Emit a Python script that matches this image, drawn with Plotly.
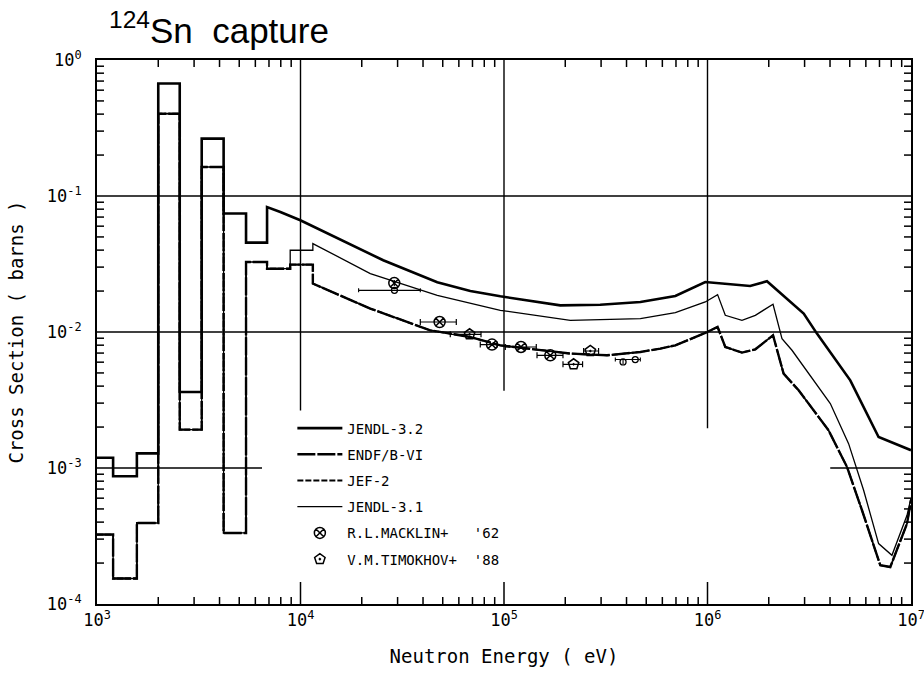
import plotly.graph_objects as go

# ---------------- data ----------------
# JENDL-3.2 : averaged resonance histogram then smooth curve
edges_j32 = [1000, 1200, 1570, 2000, 2550, 3270, 4190, 5400, 6850]
sig_j32_hist = [1.19e-3, 8.7e-4, 1.28e-3, 0.671, 3.62e-3, 0.264, 0.0743, 0.0454]
e_j32 = [6850, 7960, 9980, 25500, 47000, 68300, 95900, 189000, 297000, 468000,
         695000, 975000, 1.62e6, 1.96e6, 2.97e6, 3.45e6, 5.03e6, 6.93e6, 1e7]
sig_j32 = [0.083, 0.0763, 0.0663, 0.0337, 0.0232, 0.0200, 0.0183, 0.0157, 0.01585, 0.01663,
           0.0184, 0.0233, 0.0218, 0.0236, 0.01365, 0.00973, 0.00441, 0.00169, 0.00135]

# common histogram of JENDL-3.1 / ENDF/B-VI / JEF-2
edges_common = [1000, 1200, 1570, 2000, 2550, 3270, 4190, 5400, 6850, 8900]
sig_common_hist = [3.24e-4, 1.54e-4, 3.94e-4, 0.403, 1.915e-3, 0.1634, 3.33e-4, 0.0327, 0.0292]
edge_split = [8900, 11500]
sig_j31_split = 0.0399
sig_endf_split = 0.0313

e_j31 = [11500, 22030, 47000, 95900, 211800, 468000, 695000, 975000, 1.121e6, 1.223e6,
         1.477e6, 1.718e6, 2.099e6, 2.323e6, 2.601e6, 4.013e6, 4.936e6, 5.85e6, 6.93e6,
         8.06e6, 9.56e6, 1e7]
sig_j31 = [0.0447, 0.0269, 0.0186, 0.01444, 0.01219, 0.01255, 0.0139, 0.01663, 0.01884, 0.01327,
           0.0122, 0.01327, 0.016, 0.00894, 0.00734, 0.002976, 0.001511, 6.86e-4, 2.78e-4,
           2.28e-4, 4.49e-4, 5.99e-4]

e_endf = [11500, 22030, 43430, 68300, 95900, 211800, 320700, 468000, 586400, 695000, 975000,
          1.121e6, 1.223e6, 1.477e6, 1.718e6, 2.099e6, 2.366e6, 2.804e6, 3.936e6, 4.85e6,
          5.744e6, 7.065e6, 7.91e6, 9.56e6, 1e7]
sig_endf = [0.0227, 0.01486, 0.01029, 0.00919, 0.00798, 0.00694, 0.00674, 0.00713, 0.00755,
            0.00798, 0.00984, 0.01089, 0.00776, 0.00706, 0.00746, 0.00946, 0.00494, 0.00373,
            0.00189, 0.001016, 4.89e-4, 1.926e-4, 1.87e-4, 3.90e-4, 5.79e-4]

# experimental data
mack_e = [28900, 48270, 87300, 121200, 168900]
mack_sig = [0.0229, 0.01184, 0.00808, 0.00776, 0.00674]
mack_elo = [28900, 38790, 76450, 101500, 145300]
mack_ehi = [28900, 58290, 92700, 144100, 194900]

timo_e = [67760, 219800, 265500]
timo_sig = [0.00962, 0.00579, 0.00725]
timo_elo = [54450, 194900, 246200]
timo_ehi = [77100, 243300, 291600]

small_e = [28950, 384600, 441600]
small_sig = [0.02025, 0.00602, 0.00627]
small_elo = [19300, 384600, 352400]
small_ehi = [38790, 384600, 467700]

# reference grid segments (energy, cross section)
grid_h = [([1e3, 1e7], 0.1), ([1e3, 1e7], 0.01), ([1e3, 6470], 1e-3), ([4.01e6, 1e7], 1e-3)]
grid_v = [(1e4, [2.65e-3, 1.0]), (1e5, [3.7e-3, 1.0]), (1e6, [1.96e-3, 1.0])]

x_tickvals = [1e3, 1e4, 1e5, 1e6, 1e7]
x_ticktext = ["10<sup>3</sup>", "10<sup>4</sup>", "10<sup>5</sup>", "10<sup>6</sup>", "10<sup>7</sup>"]
y_tickvals = [1e-4, 1e-3, 1e-2, 1e-1, 1]
y_ticktext = ["10<sup>-4</sup>", "10<sup>-3</sup>", "10<sup>-2</sup>", "10<sup>-1</sup>", "10<sup>0</sup>"]
x_minor = [float(m) * 10.0 ** d for d in range(3, 7) for m in range(2, 10)]
y_minor = [float(m) * 10.0 ** d for d in range(-4, 0) for m in range(2, 10)]
x_major_inner = [1e4, 1e5, 1e6]

# ---------------- layout geometry / style ----------------
W, H = 924, 674
ML, MR, MT, MB = 97, 13, 60, 70
XR = (3, 7)
YR = (-4, 0)
px_per_dec_x = (W - ML - MR) / (XR[1] - XR[0])
px_per_dec_y = (H - MT - MB) / (YR[1] - YR[0])
MINOR_LEN = 7
MAJOR_LEN = 22


def steps(edges, vals):
    xs, ys = [], []
    for i, v in enumerate(vals):
        xs += [edges[i], edges[i + 1]]
        ys += [v, v]
    return xs, ys


hx, hy = steps(edges_j32, sig_j32_hist)
j32_x, j32_y = hx + e_j32, hy + sig_j32

cx, cy = steps(edges_common, sig_common_hist)
j31_x = cx + edge_split + e_j31
j31_y = cy + [sig_j31_split, sig_j31_split] + sig_j31
endf_x = cx + edge_split + e_endf
endf_y = cy + [sig_endf_split, sig_endf_split] + sig_endf

# tick marks (inside, on all four sides)
ylo, yhi = 10.0 ** YR[0], 10.0 ** YR[1]
xlo, xhi = 10.0 ** XR[0], 10.0 ** XR[1]
dy_min = 10.0 ** (MINOR_LEN / px_per_dec_y)
dy_maj = 10.0 ** (MAJOR_LEN / px_per_dec_y)
dx_min = 10.0 ** (MINOR_LEN / px_per_dec_x)
tick_segments = []
for xv in x_minor:
    tick_segments.append(([xv, xv], [ylo, ylo * dy_min]))
    tick_segments.append(([xv, xv], [yhi, yhi / dy_min]))
for xv in x_major_inner:
    tick_segments.append(([xv, xv], [ylo, ylo * dy_maj]))
for yv in y_minor:
    tick_segments.append(([xlo, xlo * dx_min], [yv, yv]))
    tick_segments.append(([xhi, xhi / dx_min], [yv, yv]))

fig = go.Figure()

# grid segments
for xs, yv in grid_h:
    fig.add_trace(go.Scatter(x=xs, y=[yv, yv], mode="lines", showlegend=False,
                             hoverinfo="skip", line=dict(color="black", width=1.4)))
for xv, ys in grid_v:
    fig.add_trace(go.Scatter(x=[xv, xv], y=ys, mode="lines", showlegend=False,
                             hoverinfo="skip", line=dict(color="black", width=1.4)))

for sx, sy in tick_segments:
    fig.add_trace(go.Scatter(x=sx, y=sy, mode="lines", showlegend=False, hoverinfo="skip",
                             line=dict(color="black", width=1.5)))

fig.add_trace(go.Scatter(x=j32_x, y=j32_y, mode="lines", name="JENDL-3.2", legendgroup="a",
                         line=dict(color="black", width=2.6)))
fig.add_trace(go.Scatter(x=endf_x, y=endf_y, mode="lines", name="ENDF/B-VI", legendgroup="b",
                         line=dict(color="black", width=2.4, dash="18px,2px")))
fig.add_trace(go.Scatter(x=endf_x, y=endf_y, mode="lines", name="JEF-2", legendgroup="c",
                         line=dict(color="black", width=1.8, dash="6px,2px")))
fig.add_trace(go.Scatter(x=j31_x, y=j31_y, mode="lines", name="JENDL-3.1", legendgroup="d",
                         line=dict(color="black", width=1.3)))

fig.add_trace(go.Scatter(
    x=mack_e, y=mack_sig, mode="markers", name="R.L.MACKLIN+   '62", legendgroup="e",
    marker=dict(symbol="circle-x-open", size=11, color="black", line=dict(width=1.5)),
    error_x=dict(type="data", symmetric=False,
                 array=[h - e for h, e in zip(mack_ehi, mack_e)],
                 arrayminus=[e - l for e, l in zip(mack_e, mack_elo)],
                 color="black", thickness=1.2, width=3)))
fig.add_trace(go.Scatter(
    x=timo_e, y=timo_sig, mode="markers", name="V.M.TIMOKHOV+  '88", legendgroup="f",
    marker=dict(symbol="pentagon-open-dot", size=11, color="black", line=dict(width=1.5)),
    error_x=dict(type="data", symmetric=False,
                 array=[h - e for h, e in zip(timo_ehi, timo_e)],
                 arrayminus=[e - l for e, l in zip(timo_e, timo_elo)],
                 color="black", thickness=1.2, width=3)))
fig.add_trace(go.Scatter(
    x=small_e, y=small_sig, mode="markers", showlegend=False, hoverinfo="skip",
    marker=dict(symbol="circle-open", size=6, color="black", line=dict(width=1.3)),
    error_x=dict(type="data", symmetric=False,
                 array=[h - e for h, e in zip(small_ehi, small_e)],
                 arrayminus=[e - l for e, l in zip(small_e, small_elo)],
                 color="black", thickness=1.1, width=2)))

mono = "DejaVu Sans Mono"

fig.update_layout(
    width=W, height=H,
    margin=dict(l=ML, r=MR, t=MT, b=MB, autoexpand=False),
    paper_bgcolor="white", plot_bgcolor="white",
    title=dict(text="<sup>124</sup>Sn  capture", x=0.118, xanchor="left", xref="container",
               y=0.955, yanchor="middle", yref="container",
               font=dict(family="Liberation Sans", size=35, color="black")),
    showlegend=True,
    legend=dict(x=0.24, y=0.352, xanchor="left", yanchor="top", bgcolor="rgba(0,0,0,0)",
                font=dict(family=mono, size=14, color="black"), tracegroupgap=5,
                itemwidth=45),
    xaxis=dict(type="log", range=list(XR), showgrid=False, zeroline=False, automargin=False,
               tickmode="array", tickvals=x_tickvals, ticktext=x_ticktext,
               ticks="", showline=True, linecolor="black", linewidth=2, mirror=True,
               ticklabeloverflow="allow",
               tickfont=dict(family=mono, size=17, color="black"),
               title=dict(text="Neutron Energy ( eV)", standoff=20,
                          font=dict(family=mono, size=19, color="black"))),
    yaxis=dict(type="log", range=list(YR), showgrid=False, zeroline=False, automargin=False,
               tickmode="array", tickvals=y_tickvals, ticktext=y_ticktext,
               ticks="", showline=True, linecolor="black", linewidth=2, mirror=True,
               ticklabelstandoff=10,
               tickfont=dict(family=mono, size=17, color="black"),
               title=dict(text="Cross Section ( barns )", standoff=18,
                          font=dict(family=mono, size=19, color="black"))),
)

fig.write_html("out.html")
